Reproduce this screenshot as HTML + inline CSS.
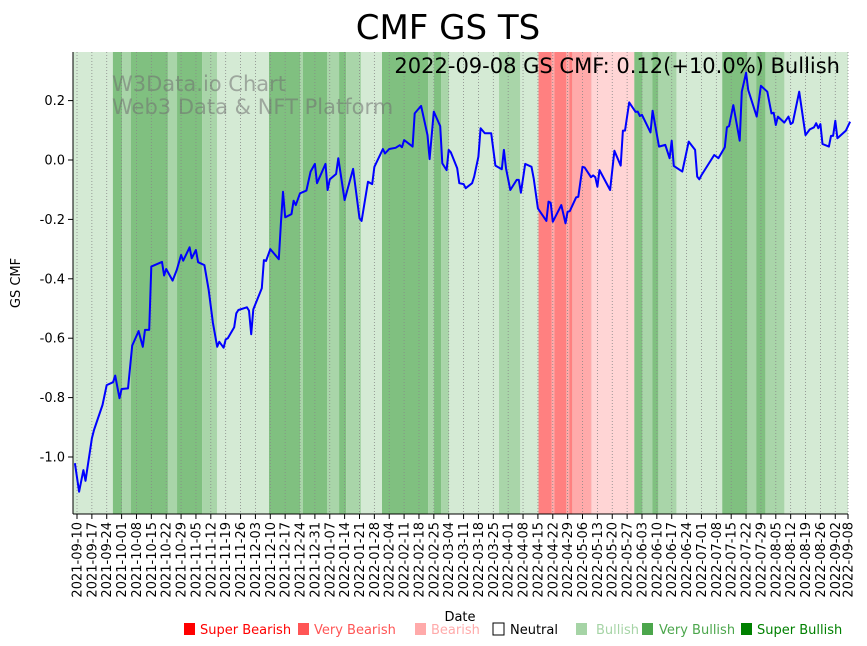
<!DOCTYPE html>
<html><head><meta charset="utf-8"><style>
html,body{margin:0;padding:0;background:#fff;}
svg{display:block;font-family:"DejaVu Sans","Liberation Sans",sans-serif;}
</style></head><body>
<svg id="chart" width="867" height="646" viewBox="0 0 867 646" xmlns="http://www.w3.org/2000/svg">
<text x="448" y="39" font-size="34" text-anchor="middle" fill="#000">CMF GS TS</text>
<g id="bands"></g>
<g id="grid"></g>
<text x="112" y="91" font-size="21" fill="#707070" fill-opacity="0.55">W3Data.io Chart</text>
<text x="112" y="114" font-size="21" fill="#707070" fill-opacity="0.55">Web3 Data &amp; NFT Platform</text>
<g id="series"></g>
<text x="840" y="73" font-size="21" text-anchor="end" fill="#000">2022-09-08 GS CMF: 0.12(+10.0%) Bullish</text>
<g id="axes"></g>
<text transform="translate(20,283) rotate(-90)" font-size="13" text-anchor="middle">GS CMF</text>
<text x="460" y="621" font-size="13" text-anchor="middle">Date</text>
<g id="legend"></g>
</svg>
<script>
const days=[-1,1,3,4,7,8,12,14,17,18,20,21,24,26,29,31,32,34,35,40,41,42,45,47,49,50,53,54,56,57,60,62,64,66,67,69,70,71,74,75,76,80,81,82,83,87,88,89,91,95,96,97,98,101,102,103,105,108,110,112,113,117,118,119,122,123,126,130,133,134,137,139,140,144,145,147,150,152,153,154,158,159,162,165,166,168,171,172,174,175,176,179,180,182,183,186,187,189,190,192,195,197,200,201,202,204,207,208,209,211,214,215,217,221,222,223,224,228,230,231,232,235,236,238,239,242,243,244,245,246,251,253,256,257,258,260,263,264,265,266,270,271,274,277,279,280,281,285,288,291,292,293,294,300,302,305,306,307,309,312,313,315,316,320,322,325,327,328,329,330,333,335,336,337,340,343,345,347,348,349,350,351,354,355,356,357,358,362,364];
const cmfValues=[-1.021,-1.117,-1.044,-1.080,-0.937,-0.909,-0.825,-0.758,-0.748,-0.726,-0.802,-0.771,-0.769,-0.625,-0.576,-0.629,-0.572,-0.572,-0.359,-0.343,-0.389,-0.367,-0.406,-0.370,-0.320,-0.339,-0.294,-0.331,-0.303,-0.344,-0.354,-0.438,-0.548,-0.629,-0.612,-0.632,-0.604,-0.600,-0.563,-0.516,-0.505,-0.496,-0.507,-0.587,-0.503,-0.432,-0.337,-0.340,-0.300,-0.334,-0.213,-0.107,-0.193,-0.182,-0.137,-0.152,-0.112,-0.103,-0.039,-0.013,-0.078,-0.013,-0.101,-0.065,-0.047,0.006,-0.135,-0.030,-0.196,-0.205,-0.073,-0.081,-0.023,0.037,0.022,0.037,0.041,0.050,0.043,0.067,0.045,0.157,0.182,0.084,0.003,0.163,0.114,-0.011,-0.034,0.034,0.026,-0.028,-0.078,-0.081,-0.095,-0.078,-0.056,0.011,0.107,0.090,0.090,-0.019,-0.031,0.034,-0.028,-0.101,-0.067,-0.067,-0.110,-0.013,-0.023,-0.062,-0.163,-0.205,-0.140,-0.144,-0.208,-0.152,-0.213,-0.174,-0.172,-0.126,-0.124,-0.023,-0.025,-0.058,-0.052,-0.058,-0.090,-0.034,-0.101,0.031,-0.019,0.099,0.099,0.194,0.162,0.163,0.148,0.152,0.093,0.166,0.045,0.051,0.006,0.065,-0.020,-0.039,0.062,0.034,-0.056,-0.065,-0.051,0.017,0.006,0.043,0.110,0.114,0.185,0.065,0.230,0.294,0.236,0.146,0.250,0.230,0.157,0.159,0.118,0.146,0.126,0.146,0.121,0.126,0.230,0.084,0.103,0.110,0.124,0.107,0.121,0.054,0.045,0.081,0.081,0.132,0.073,0.099,0.129];
const bandStarts=[16.9,21.2,25.4,42.8,47.1,58.9,90.4,105,106.4,117.7,123.4,126.7,143.6,165.3,168.1,171.4,198.7,217.3,223.4,224.8,230.4,231.8,233.2,242.2,262.4,266.2,270.9,273.7,303.8,315.6,319.8,324.1];
const bandEnds=[21.2,25.4,42.8,47.1,58.9,65.9,105,106.4,117.7,123.4,126.7,133.7,165.3,168.1,171.4,175.1,208.6,223.4,224.8,230.4,231.8,233.2,242.2,262.4,266.2,270.9,273.7,282.2,315.6,319.8,324.1,333];
const bandLevels=[3,2,3,2,3,2,3,2,3,2,3,2,3,2,3,2,2,-3,-2,-3,-2,-3,-2,-1,3,2,3,2,3,2,3,2];
const yTicks=[-1.0,-0.8,-0.6,-0.4,-0.2,0.0,0.2];
const xTickDays=[0,7,14,21,28,35,42,49,56,63,70,77,84,91,98,105,112,119,126,133,140,147,154,161,168,175,182,189,196,203,210,217,224,231,238,245,252,259,266,273,280,287,294,301,308,315,322,329,336,343,350,357,363];
const xTickLabels=["2021-09-10","2021-09-17","2021-09-24","2021-10-01","2021-10-08","2021-10-15","2021-10-22","2021-10-29","2021-11-05","2021-11-12","2021-11-19","2021-11-26","2021-12-03","2021-12-10","2021-12-17","2021-12-24","2021-12-31","2022-01-07","2022-01-14","2022-01-21","2022-01-28","2022-02-04","2022-02-11","2022-02-18","2022-02-25","2022-03-04","2022-03-11","2022-03-18","2022-03-25","2022-04-01","2022-04-08","2022-04-15","2022-04-22","2022-04-29","2022-05-06","2022-05-13","2022-05-20","2022-05-27","2022-06-03","2022-06-10","2022-06-17","2022-06-24","2022-07-01","2022-07-08","2022-07-15","2022-07-22","2022-07-29","2022-08-05","2022-08-12","2022-08-19","2022-08-26","2022-09-02","2022-09-08"];
const legendLabels=["Super Bearish","Very Bearish","Bearish","Neutral","Bullish","Very Bullish","Super Bullish"];
const legendColors=["#ff0000","#ff5555","#ffaaaa","#ffffff","#a6d4a6","#4ca64c","#008000"];

const NS="http://www.w3.org/2000/svg";
const PL=73,PR=848,PT=52,PB=514;
function xScale(d){return 77+d*2.124;}
function yScale(v){return 160-v*297;}
function mk(tag,attrs,parent){const e=document.createElementNS(NS,tag);for(const k in attrs)e.setAttribute(k,attrs[k]);parent.appendChild(e);return e;}
const levelColor={"3":"#80c080","2":"#a9d5a9","1":"#d4ead4","-1":"#ffd5d5","-2":"#ffaaaa","-3":"#ff8080"};

const gB=document.getElementById('bands');
const base=mk('rect',{x:PL,y:PT,width:PR-PL,height:PB-PT,fill:levelColor["1"]},gB);


for(let i=0;i<bandStarts.length;i++){
  const x0=xScale(bandStarts[i]),x1=xScale(bandEnds[i]);
  const r=mk('rect',{x:x0,y:PT,width:x1-x0,height:PB-PT,fill:levelColor[String(bandLevels[i])]},gB);
  
  
}
const gG=document.getElementById('grid');
const gA=document.getElementById('axes');
xTickDays.forEach((d,i)=>{
  const x=xScale(d);
  const gl=mk('line',{x1:x,x2:x,y1:PT,y2:PB,stroke:"#888",'stroke-width':0.8,'stroke-dasharray':"1,2"},gG);
  
  
  const t=mk('line',{x1:x,x2:x,y1:PB,y2:PB+5,stroke:"#000",'stroke-width':1},gA);
  
  
  const lb=mk('text',{transform:`translate(${x+4.5},${PB+8}) rotate(-90)`,'font-size':13,'text-anchor':'end'},gA);
  lb.textContent=xTickLabels[i];
  
  
});
yTicks.forEach(v=>{
  const y=yScale(v);
  const t=mk('line',{x1:PL-5,x2:PL,y1:y,y2:y,stroke:"#000",'stroke-width':1},gA);
  
  
  const lb=mk('text',{x:PL-8,y:y+4.5,'font-size':13,'text-anchor':'end'},gA);
  lb.textContent=v.toFixed(1);
  
  
});
const ls=mk('line',{x1:PL,x2:PL,y1:PT,y2:PB,stroke:"#000",'stroke-width':1},gA);


const bs=mk('line',{x1:PL,x2:PR,y1:PB,y2:PB,stroke:"#000",'stroke-width':1},gA);



const gS=document.getElementById('series');
const pts=days.map((d,i)=>xScale(d).toFixed(1)+","+yScale(cmfValues[i]).toFixed(1)).join(" ");
const pl=mk('polyline',{points:pts,fill:"none",stroke:"#0000ff",'stroke-width':2,'stroke-linejoin':'round'},gS);



const gL=document.getElementById('legend');
const swX=[184,298,415,493,576,642,741];
const txX=[200,314,431,510,596,659,757];
legendLabels.forEach((name,i)=>{
  const tx=mk('text',{x:txX[i],y:634,'font-size':13,fill:i===3?"#000":legendColors[i]},gL);
  tx.textContent=name;
  
  
});
legendLabels.forEach((name,i)=>{
  const sq=mk('rect',{x:swX[i],y:623,width:11,height:12,fill:legendColors[i],stroke:i===3?"#000":"none",'stroke-width':1},gL);
  
  
});
</script>
</body></html>
